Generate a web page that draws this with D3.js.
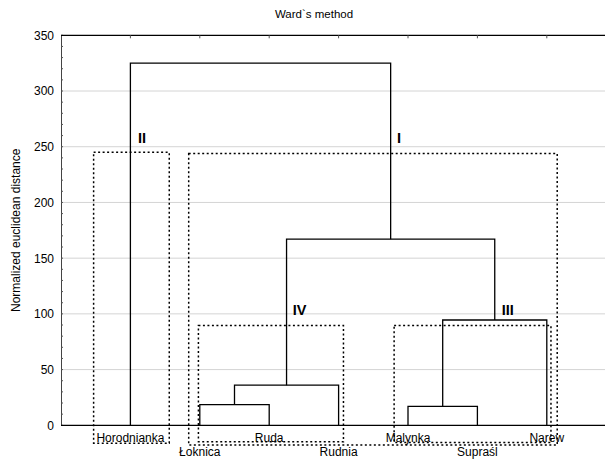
<!DOCTYPE html>
<html>
<head>
<meta charset="utf-8">
<script src="https://cdn.jsdelivr.net/npm/d3@7"></script>
<style>
  body { margin: 0; background: #fff; }
  svg { display: block; font-family: "Liberation Sans", Arial, sans-serif; }
</style>
</head>
<body>
<div id="chart"></div>
<script>
// leaves in dendrogram order
const leaves = ["Horodnianka", "Łoknica", "Ruda", "Rudnia", "Malynka", "Supraśl", "Narew"]
// merges: [left node, right node, height]; nodes 0..6 are leaves, 7+ are merges
const merges = [
	[1, 2, 18.5],
	[7, 3, 36],
	[4, 5, 17],
	[9, 6, 94.5],
	[8, 10, 167],
	[0, 11, 325]
]
const yTicks = [0, 50, 100, 150, 200, 250, 300, 350]
// cluster boxes in leaf-index / distance units
const boxes = [
	{ name: "II", x0: 0.47, x1: 1.56, top: 245, bottom: -16, lx: 1.11, ly: 253 },
	{ name: "I", x0: 1.84, x1: 7.15, top: 244, bottom: -17.7, lx: 4.84, ly: 253 },
	{ name: "IV", x0: 1.98, x1: 4.07, top: 89.5, bottom: -14.8, lx: 3.34, ly: 99 },
	{ name: "III", x0: 4.8, x1: 7.06, top: 89.5, bottom: -15.5, lx: 6.35, ly: 99 }
]

const width = 605
const height = 459
const margin = { top: 35.3, left: 61, bottom: 33.7 }

const x = d3.scaleLinear().domain([0, 8]).range([margin.left, margin.left + 8 * 69.4])
const y = d3.scaleLinear().domain([0, 350]).range([height - margin.bottom, margin.top])

const svg = d3.select("#chart").append("svg").attr("width", width).attr("height", height)

svg.append("text")
	.attr("x", 314)
	.attr("y", 18)
	.attr("text-anchor", "middle")
	.attr("font-size", 11.5)
	.text("Ward`s method")

// grid
svg.append("g")
	.selectAll("line")
	.data(yTicks.filter(d => d > 0 && d < 350))
	.enter()
	.append("line")
	.attr("x1", x(0))
	.attr("x2", x(8))
	.attr("y1", d => y(d))
	.attr("y2", d => y(d))
	.attr("stroke", "#d4d4d4")
	.attr("stroke-width", 1)

// y axis
const yAxis = svg.append("g")
	.attr("transform", `translate(${x(0)},0)`)
	.call(d3.axisLeft(y).tickValues(yTicks).tickSize(0).tickPadding(7))
yAxis.select(".domain").attr("stroke", "#444")
yAxis.selectAll("text").attr("font-size", 12).attr("font-family", "Liberation Sans, Arial, sans-serif").attr("fill", "#000")

// minor ticks inside
svg.append("g")
	.selectAll("line")
	.data(d3.range(0, 351, 10))
	.enter()
	.append("line")
	.attr("x1", x(0))
	.attr("x2", x(0) + 2)
	.attr("y1", d => y(d))
	.attr("y2", d => y(d))
	.attr("stroke", "#555")

// top frame and bottom axis
svg.append("line").attr("x1", x(0)).attr("x2", x(8)).attr("y1", y(350)).attr("y2", y(350)).attr("stroke", "#000").attr("stroke-width", 1.3)
svg.append("line").attr("x1", x(0)).attr("x2", x(8)).attr("y1", y(0)).attr("y2", y(0)).attr("stroke", "#000").attr("stroke-width", 1.2)

// top ticks at leaves
svg.append("g")
	.selectAll("line")
	.data(leaves)
	.enter()
	.append("line")
	.attr("x1", (d, i) => x(i + 1))
	.attr("x2", (d, i) => x(i + 1))
	.attr("y1", y(350))
	.attr("y2", y(350) + 3)
	.attr("stroke", "#555")

svg.append("text")
	.attr("transform", `translate(20,${y(175)}) rotate(-90)`)
	.attr("text-anchor", "middle")
	.attr("font-size", 12)
	.text("Normalized euclidean distance")

// dendrogram
const nodes = leaves.map((d, i) => ({ pos: i + 1, h: 0 }))
const links = []
merges.forEach(([a, b, h]) => {
	const na = nodes[a]
	const nb = nodes[b]
	links.push({ x0: na.pos, h0: na.h, x1: nb.pos, h1: nb.h, h })
	nodes.push({ pos: (na.pos + nb.pos) / 2, h })
})

svg.append("g")
	.selectAll("path")
	.data(links)
	.enter()
	.append("path")
	.attr("d", d => `M${x(d.x0)},${y(d.h0)}V${y(d.h)}H${x(d.x1)}V${y(d.h1)}`)
	.attr("fill", "none")
	.attr("stroke", "#000")
	.attr("stroke-width", 1.3)

// leaf labels, staggered
svg.append("g")
	.selectAll("text")
	.data(leaves)
	.enter()
	.append("text")
	.attr("x", (d, i) => x(i + 1))
	.attr("y", (d, i) => (i % 2 === 0 ? y(0) + 17 : y(0) + 31))
	.attr("text-anchor", "middle")
	.attr("font-size", 12)
	.text(d => d)

// cluster boxes
svg.append("g")
	.selectAll("rect")
	.data(boxes)
	.enter()
	.append("rect")
	.attr("x", d => x(d.x0))
	.attr("y", d => y(d.top))
	.attr("width", d => x(d.x1) - x(d.x0))
	.attr("height", d => y(d.bottom) - y(d.top))
	.attr("fill", "none")
	.attr("stroke", "#000")
	.attr("stroke-width", 1.5)
	.attr("stroke-dasharray", "2,2.5")

svg.append("g")
	.selectAll("text")
	.data(boxes)
	.enter()
	.append("text")
	.attr("x", d => x(d.lx))
	.attr("y", d => y(d.ly))
	.attr("font-size", 14.5)
	.attr("font-weight", "bold")
	.text(d => d.name)
</script>
</body>
</html>
